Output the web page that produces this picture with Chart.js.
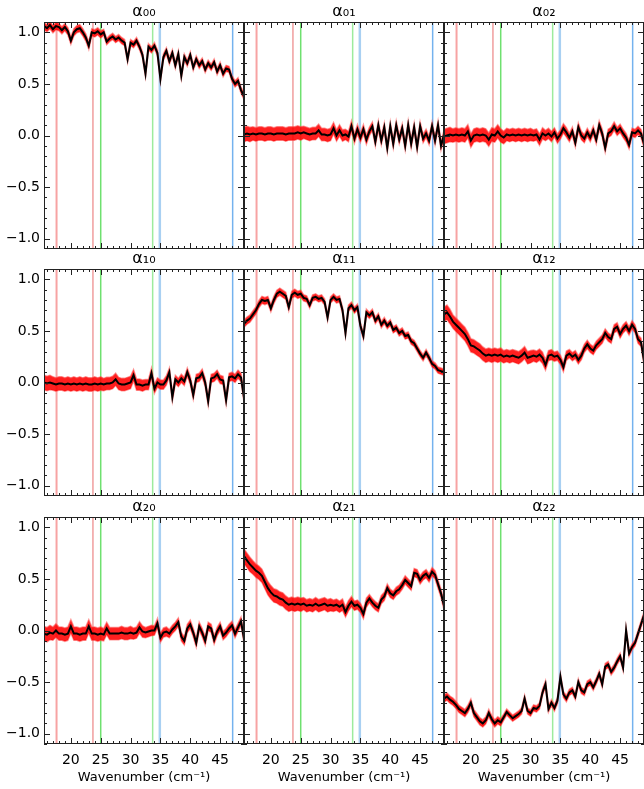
<!DOCTYPE html>
<html>
<head>
<meta charset="utf-8">
<script src="https://cdn.jsdelivr.net/npm/chart.js@4.4.1/dist/chart.umd.min.js"></script>
<style>
html, body { margin: 0; padding: 0; background: #fff; }
#wrap { position: relative; width: 644px; height: 789px; overflow: hidden; }
#wrap canvas { position: absolute; }
</style>
</head>
<body>
<div id="wrap"></div>
<script>
// wavenumber grid (cm^-1)
var wn = [15.5,16,16.5,17,17.5,18,18.5,19,19.5,20,
	20.5,21,21.5,22,22.5,23,23.5,24,24.5,25,
	25.5,26,26.5,27,27.5,28,28.5,29,29.5,30,
	30.5,31,31.5,32,32.5,33,33.5,34,34.5,35,
	35.5,36,36.5,37,37.5,38,38.5,39,39.5,40,
	40.5,41,41.5,42,42.5,43,43.5,44,44.5,45,
	45.5,46,46.5,47,47.5,48,48.5,49];

var a00 = [1.06,1.04,1.07,1.03,1.06,1.05,1.02,1.05,1.01,0.92,
	1.00,1.03,1.04,1.00,0.95,0.87,1.00,0.99,1.01,0.98,
	1.00,0.91,0.94,0.96,0.93,0.95,0.92,0.90,0.74,0.90,
	0.88,0.92,0.86,0.78,0.60,0.86,0.83,0.87,0.80,0.55,
	0.76,0.82,0.72,0.80,0.68,0.79,0.58,0.76,0.70,0.78,
	0.66,0.74,0.68,0.72,0.64,0.70,0.66,0.71,0.62,0.68,
	0.60,0.65,0.64,0.55,0.50,0.53,0.44,0.38];
var a01 = [0.01,0.02,0.01,0.02,0.01,0.02,0.02,0.01,0.02,0.02,
	0.01,0.02,0.02,0.02,0.01,0.02,0.02,0.02,0.03,0.02,
	0.03,0.02,0.01,0.02,0.02,0.05,0.01,0.01,0.00,0.01,
	0.07,0.00,0.05,0.00,0.01,-0.01,0.09,-0.03,0.06,-0.02,
	0.06,-0.04,0.04,0.09,-0.06,0.10,-0.05,0.08,-0.12,0.09,
	-0.08,0.10,-0.04,0.07,-0.10,0.10,-0.08,0.08,-0.11,0.09,
	-0.03,0.02,-0.05,0.09,-0.05,0.10,-0.10,0.01];
var a02 = [-0.01,0.00,0.01,0.00,0.01,0.00,0.01,0.00,0.04,-0.05,
	0.00,0.01,0.00,0.01,0.00,-0.04,0.01,0.00,0.04,0.00,
	-0.02,0.01,0.00,0.01,0.00,0.01,0.00,0.01,0.00,0.01,
	0.00,0.01,-0.04,0.02,0.00,0.02,-0.01,0.03,-0.03,0.01,
	0.07,0.03,-0.02,0.04,-0.07,0.08,0.00,-0.03,0.03,-0.02,
	0.05,-0.04,0.10,0.02,-0.12,0.02,0.04,0.09,0.04,0.07,
	0.02,-0.02,-0.09,0.03,0.02,0.05,0.02,-0.08];
var a10 = [0.00,-0.01,0.00,-0.01,-0.02,-0.01,-0.01,-0.02,-0.01,-0.02,
	-0.01,-0.02,-0.01,-0.02,-0.01,-0.02,-0.02,-0.01,-0.02,-0.01,
	-0.02,-0.01,-0.01,0.00,0.03,-0.01,-0.02,-0.02,-0.01,0.00,
	0.07,-0.02,-0.02,-0.03,-0.02,-0.02,0.09,-0.06,0.00,-0.02,
	-0.02,0.02,0.10,-0.14,0.03,0.00,0.04,0.01,0.10,0.02,
	-0.12,0.04,0.05,0.09,0.00,-0.18,0.04,0.05,0.08,0.03,
	0.02,-0.17,0.05,0.06,0.04,0.08,0.05,-0.15];
var a11 = [0.57,0.60,0.62,0.66,0.70,0.76,0.80,0.79,0.80,0.72,
	0.80,0.86,0.88,0.86,0.84,0.73,0.85,0.87,0.85,0.86,
	0.82,0.81,0.75,0.82,0.83,0.81,0.82,0.78,0.63,0.80,
	0.83,0.80,0.81,0.70,0.48,0.72,0.75,0.70,0.73,0.55,
	0.45,0.68,0.65,0.68,0.60,0.64,0.56,0.60,0.55,0.58,
	0.51,0.53,0.48,0.50,0.45,0.46,0.40,0.38,0.33,0.28,
	0.24,0.29,0.24,0.18,0.16,0.12,0.11,0.10];
var a12 = [0.66,0.68,0.64,0.59,0.56,0.53,0.50,0.47,0.42,0.36,
	0.35,0.33,0.31,0.28,0.26,0.27,0.26,0.27,0.26,0.27,
	0.25,0.26,0.25,0.26,0.25,0.24,0.26,0.29,0.24,0.25,
	0.26,0.25,0.27,0.24,0.17,0.26,0.27,0.25,0.26,0.22,
	0.15,0.26,0.28,0.25,0.27,0.22,0.26,0.33,0.37,0.33,
	0.31,0.36,0.39,0.42,0.48,0.44,0.42,0.52,0.54,0.47,
	0.52,0.55,0.50,0.56,0.52,0.42,0.39,0.21];
var a20 = [-0.03,-0.04,-0.02,-0.03,0.00,-0.03,-0.03,-0.04,-0.03,0.04,
	-0.03,-0.03,-0.04,-0.03,-0.03,0.04,-0.03,-0.03,-0.04,-0.03,
	-0.04,0.02,-0.03,-0.03,-0.03,-0.03,-0.02,-0.03,-0.03,-0.02,
	-0.03,-0.02,0.03,-0.01,-0.02,-0.01,0.00,0.00,0.07,-0.07,
	-0.02,-0.01,-0.03,0.01,0.04,0.08,-0.06,-0.10,0.02,0.06,
	-0.02,-0.12,0.04,-0.02,-0.10,0.04,0.02,-0.09,-0.01,0.04,
	-0.05,-0.02,0.02,0.05,-0.03,0.03,0.09,-0.08];
var a21 = [0.72,0.68,0.64,0.61,0.58,0.56,0.53,0.47,0.41,0.37,
	0.34,0.33,0.31,0.30,0.27,0.25,0.26,0.25,0.26,0.25,
	0.26,0.24,0.25,0.24,0.26,0.24,0.25,0.26,0.24,0.25,
	0.24,0.25,0.23,0.25,0.18,0.24,0.28,0.24,0.25,0.22,
	0.16,0.27,0.31,0.27,0.24,0.22,0.30,0.33,0.41,0.36,
	0.34,0.38,0.40,0.44,0.49,0.46,0.43,0.56,0.55,0.49,
	0.53,0.55,0.51,0.57,0.54,0.45,0.36,0.24];
var a22 = [-0.66,-0.64,-0.67,-0.69,-0.72,-0.76,-0.78,-0.80,-0.76,-0.70,
	-0.80,-0.84,-0.88,-0.90,-0.87,-0.80,-0.86,-0.90,-0.87,-0.89,
	-0.84,-0.79,-0.82,-0.85,-0.83,-0.81,-0.78,-0.66,-0.78,-0.80,
	-0.75,-0.76,-0.73,-0.60,-0.52,-0.76,-0.70,-0.75,-0.68,-0.45,
	-0.62,-0.66,-0.60,-0.58,-0.64,-0.50,-0.58,-0.60,-0.52,-0.50,
	-0.55,-0.49,-0.42,-0.52,-0.35,-0.33,-0.40,-0.36,-0.30,-0.25,
	-0.36,0.00,-0.22,-0.16,-0.12,-0.03,0.06,0.15];

// 1-sigma errors (off-diagonal and diagonal elements)
var errOff = [0.07,0.07,0.07,0.065,0.065,0.065,0.065,0.065,0.065,0.065,
	0.065,0.065,0.065,0.065,0.065,0.065,0.065,0.065,0.065,0.065,
	0.06,0.06,0.06,0.06,0.06,0.06,0.06,0.06,0.06,0.06,
	0.055,0.055,0.055,0.055,0.05,0.05,0.05,0.045,0.045,0.045,
	0.045,0.045,0.04,0.04,0.04,0.04,0.04,0.04,0.04,0.04,
	0.04,0.04,0.04,0.04,0.04,0.04,0.04,0.04,0.04,0.04,
	0.04,0.04,0.04,0.04,0.04,0.04,0.04,0.04];
var errDiag = [0.035,0.035,0.035,0.035,0.035,0.035,0.035,0.035,0.035,0.035,
	0.035,0.035,0.035,0.035,0.035,0.035,0.035,0.035,0.035,0.035,
	0.03,0.03,0.03,0.03,0.03,0.03,0.03,0.03,0.03,0.03,
	0.03,0.03,0.03,0.03,0.03,0.03,0.03,0.03,0.03,0.03,
	0.03,0.03,0.03,0.03,0.03,0.03,0.03,0.03,0.03,0.03,
	0.03,0.03,0.03,0.03,0.03,0.03,0.03,0.03,0.03,0.03,
	0.03,0.03,0.03,0.03,0.03,0.03,0.03,0.03];

// band edges (cm^-1)
var edges = [17.6, 23.7, 25.0, 33.7, 34.9, 47.1];
var edgeColors = ['#f7a3a3', '#e86c6c', '#6fe06f', '#9deb9d', '#a9d0f2', '#74b2ee'];
var edgeWidths = [2, 1, 1.5, 1.5, 2.5, 1.5];

var titles = ['α₀₀','α₀₁','α₀₂','α₁₀','α₁₁','α₁₂','α₂₀','α₂₁','α₂₂'];
var series = [a00, a01, a02, a10, a11, a12, a20, a21, a22];
var errs = [errDiag, errOff, errOff, errOff, errDiag, errOff, errOff, errOff, errDiag];

var xTicks = [20, 25, 30, 35, 40, 45];
var yTicks = [-1.0, -0.5, 0.0, 0.5, 1.0];
var yMin = -1.1, yMax = 1.1, xMin = 15.5, xMax = 49;

Chart.defaults.font.family = "'DejaVu Sans', sans-serif";
Chart.defaults.color = '#000';

// IDL style frame with inward ticks on all four sides
var idlFrame = {
	id: 'idlFrame',
	afterDatasetsDraw: function(chart) {
		var ctx = chart.ctx, a = chart.chartArea;
		var xs = chart.scales.x, ys = chart.scales.y;
		ctx.save();
		ctx.strokeStyle = '#222';
		ctx.lineWidth = 1;
		ctx.beginPath();
		for (var v = Math.ceil(xMin); v <= xMax; v++) {
			var px = Math.round(xs.getPixelForValue(v)) + 0.5;
			var len = (v % 5 == 0) ? 6 : 3;
			ctx.moveTo(px, a.bottom); ctx.lineTo(px, a.bottom - len);
			ctx.moveTo(px, a.top); ctx.lineTo(px, a.top + len);
		}
		for (var k = -11; k <= 11; k++) {
			var py = Math.round(ys.getPixelForValue(k / 10)) + 0.5;
			var ylen = (k % 5 == 0) ? 6 : 3;
			ctx.moveTo(a.left, py); ctx.lineTo(a.left + ylen, py);
			ctx.moveTo(a.right, py); ctx.lineTo(a.right - ylen, py);
		}
		ctx.stroke();
		ctx.strokeRect(a.left + 0.5, a.top + 0.5, a.right - a.left - 1, a.bottom - a.top - 1);
		ctx.restore();
	}
};

var rowTop = [22, 269, 517];
var plotH = 227;
var wrap = document.getElementById('wrap');

function load_panel(k) {
	var r = Math.floor(k / 3), c = k % 3;
	var left = (c == 0) ? 0 : 44 + 200 * c;
	var w = (c == 0) ? 244 : 200;
	var h = 20 + plotH + (r == 2 ? 45 : 0);
	var cv = document.createElement('canvas');
	cv.width = w; cv.height = h;
	cv.style.left = left + 'px';
	cv.style.top = (rowTop[r] - 20) + 'px';
	wrap.appendChild(cv);

	var vals = series[k], err = errs[k];
	var ds = [];
	ds.push({
		data: wn.map(function(x, i) { return {x: x, y: vals[i]}; }),
		borderColor: '#000', borderWidth: 2, pointRadius: 0, fill: false, clip: 0, order: 0
	});
	ds.push({
		data: wn.map(function(x, i) { return {x: x, y: vals[i] + err[i]}; }),
		borderColor: 'rgba(255,70,70,0.55)', borderWidth: 1.5, backgroundColor: 'rgba(255,0,0,0.88)',
		fill: '+1', pointRadius: 0, clip: 0, order: 1
	});
	ds.push({
		data: wn.map(function(x, i) { return {x: x, y: vals[i] - err[i]}; }),
		borderColor: 'rgba(255,70,70,0.55)', borderWidth: 1.5, fill: false, pointRadius: 0, clip: 0, order: 1
	});
	edges.forEach(function(e, j) {
		ds.push({
			data: [{x: e, y: yMin}, {x: e, y: yMax}],
			borderColor: edgeColors[j], borderWidth: edgeWidths[j], pointRadius: 0, fill: false, clip: 0, order: 2
		});
	});

	var xOpts = {
		type: 'linear', min: xMin, max: xMax, display: r == 2,
		afterBuildTicks: function(s) { s.ticks = xTicks.map(function(v) { return {value: v}; }); },
		grid: {display: false, drawTicks: false}, border: {display: false},
		ticks: {padding: 8, font: {size: 14}, color: '#000', maxRotation: 0, autoSkip: false,
			callback: function(v) { return String(v); }},
		title: {display: true, text: 'Wavenumber (cm⁻¹)', font: {size: 13}, color: '#000', padding: {top: 0, bottom: 4}}
	};
	if (r == 2) xOpts.afterFit = function(s) { s.height = 45; s.paddingLeft = 0; s.paddingRight = 0; };

	var yOpts = {
		type: 'linear', min: yMin, max: yMax, display: c == 0,
		afterBuildTicks: function(s) { s.ticks = yTicks.map(function(v) { return {value: v}; }); },
		grid: {display: false, drawTicks: false}, border: {display: false},
		ticks: {padding: 4, font: {size: 14}, color: '#000', autoSkip: false,
			callback: function(v) { return v.toFixed(1).replace('-', '−'); }}
	};
	if (c == 0) yOpts.afterFit = function(s) { s.width = 44; s.paddingTop = 0; s.paddingBottom = 0; };

	new Chart(cv, {
		type: 'line',
		data: {datasets: ds},
		options: {
			responsive: false,
			animation: false,
			devicePixelRatio: 1,
			layout: {padding: 0},
			scales: {x: xOpts, y: yOpts},
			plugins: {
				legend: {display: false},
				tooltip: {enabled: false},
				title: {display: true, text: titles[k], fullSize: false, color: '#000',
					font: {size: 16, weight: 'normal', lineHeight: 1}, padding: {top: 2, bottom: 2}}
			}
		},
		plugins: [idlFrame]
	});
}

for (var k = 0; k < 9; k++) load_panel(k);
</script>
</body>
</html>
